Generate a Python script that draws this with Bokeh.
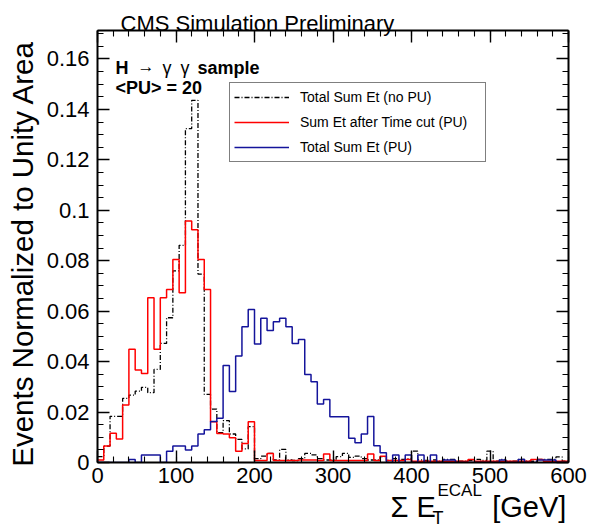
import math
from bokeh.plotting import figure
from bokeh.models import (Range1d, FixedTicker, LinearAxis, Label, Legend, LegendItem, Title,
                          CustomJSTickFormatter, ColumnDataSource)
from bokeh.embed import file_html
from bokeh.resources import INLINE

# ---------------- data ----------------
BIN_LOW, BIN_HIGH, N_BINS = 0.0, 600.0, 75

no_pu = [0.0023, 0.0065, 0.0183, 0.0183, 0.0254, 0.0267, 0.0283, 0.0298, 0.0277, 0.0369,
         0.0472, 0.0574, 0.0760, 0.0861, 0.1324, 0.1436, 0.0747, 0.0270, 0.0212, 0.0118,
         0.0166, 0.0113, 0.0092, 0.0054, 0.0142, 0.0015, 0.0025, 0.0036, 0.0010, 0.0052,
         0.0010, 0.0008, 0.0015, 0.0036, 0.0030, 0.0015, 0.0010, 0.0010, 0.0023, 0.0036,
         0.0020, 0.0025, 0.0015, 0.0010, 0.0010, 0.0023, 0.0008, 0.0015, 0.0012, 0.0015,
         0.0045, 0.0010, 0.0008, 0.0010, 0.0005, 0.0012, 0.0012, 0.0005, 0.0005, 0.0008,
         0.0012, 0.0008, 0.0045, 0.0005, 0.0012, 0.0005, 0.0005, 0.0012, 0.0005, 0.0005,
         0.0012, 0.0012, 0.0012, 0.0022, 0.0005]

time_cut_pu = [0.0010, 0.0065, 0.0116, 0.0093, 0.0228, 0.0449, 0.0367, 0.0353, 0.0653, 0.0449,
               0.0653, 0.0686, 0.0805, 0.0673, 0.0958, 0.0923, 0.0805, 0.0686, 0.0162, 0.0115,
               0.0113, 0.0098, 0.0045, 0.0075, 0.0162, 0.0008, 0.0008, 0.0036, 0.0008, 0.0008,
               0.0008, 0.0008, 0.0010, 0.0010, 0.0010, 0.0008, 0.0034, 0.0008, 0.0008, 0.0008,
               0.0008, 0.0008, 0.0008, 0.0034, 0.0008, 0.0025, 0.0008, 0.0008, 0.0008, 0.0012,
               0.0005, 0.0005, 0.0005, 0.0005, 0.0005, 0.0005, 0.0005, 0.0005, 0.0005, 0.0012,
               0.0005, 0.0005, 0.0005, 0.0005, 0.0005, 0.0005, 0.0005, 0.0005, 0.0005, 0.0012,
               0.0012, 0.0005, 0.0005, 0.0005, 0.0005]

total_pu = [0.0, 0.0, 0.0, 0.0, 0.0, 0.0012, 0.0, 0.0030, 0.0030, 0.0030,
            0.0, 0.0045, 0.0065, 0.0065, 0.0050, 0.0065, 0.0113, 0.0130, 0.0163, 0.0175,
            0.0385, 0.0282, 0.0422, 0.0538, 0.0607, 0.0470, 0.0572, 0.0523, 0.0558, 0.0572,
            0.0538, 0.0472, 0.0488, 0.0349, 0.0320, 0.0232, 0.0250, 0.0181, 0.0181, 0.0181,
            0.0096, 0.0078, 0.0113, 0.0182, 0.0066, 0.0039, 0.0, 0.0030, 0.0, 0.0030,
            0.0, 0.0030, 0.0, 0.0030, 0.0, 0.0010, 0.0010, 0.0, 0.0, 0.0,
            0.0, 0.0, 0.0, 0.0, 0.0010, 0.0, 0.0, 0.0012, 0.0, 0.0,
            0.0010, 0.0010, 0.0010, 0.0, 0.0]

series_labels = ["Total Sum Et (no PU)", "Sum Et after Time cut (PU)", "Total Sum Et (PU)"]

x_major_ticks = [0, 100, 200, 300, 400, 500, 600]
x_minor_ticks = [0, 20, 40, 60, 80, 100, 120, 140, 160, 180, 200, 220, 240, 260, 280, 300,
                 320, 340, 360, 380, 400, 420, 440, 460, 480, 500, 520, 540, 560, 580, 600]
y_major_ticks = [0, 0.02, 0.04, 0.06, 0.08, 0.10, 0.12, 0.14, 0.16]
y_minor_ticks = [0, 0.005, 0.01, 0.015, 0.02, 0.025, 0.03, 0.035, 0.04, 0.045, 0.05, 0.055,
                 0.06, 0.065, 0.07, 0.075, 0.08, 0.085, 0.09, 0.095, 0.1, 0.105, 0.11, 0.115,
                 0.12, 0.125, 0.13, 0.135, 0.14, 0.145, 0.15, 0.155, 0.16, 0.165, 0.17]
Y_MAX = 0.1713

# ---------------- layout ----------------
W, H = 593, 528
FL, FR, FT, FB = 97, 568, 30, 462   # frame edges in picture pixels

p = figure(width=W, height=H, x_range=Range1d(BIN_LOW, BIN_HIGH), y_range=Range1d(0, Y_MAX),
           output_backend="svg", toolbar_location=None,
           min_border_left=FL, min_border_right=W - FR,
           min_border_top=FT, min_border_bottom=H - FB)
p.title.text = ""
p.xgrid.visible = False
p.ygrid.visible = False
p.outline_line_color = None
p.background_fill_color = "white"
p.border_fill_color = "white"

FONT = "Liberation Sans"

def style_axis(ax, show_labels, standoff):
    ax.axis_line_width = 2
    ax.axis_line_color = "black"
    ax.major_tick_in = 12
    ax.major_tick_out = 0
    ax.minor_tick_in = 6
    ax.minor_tick_out = 0
    ax.major_tick_line_width = 1.4
    ax.minor_tick_line_width = 1.1
    ax.major_tick_line_color = "black"
    ax.minor_tick_line_color = "black"
    ax.major_label_text_font = FONT
    ax.major_label_text_color = "black"
    if show_labels:
        ax.major_label_text_font_size = "22px"
        ax.major_label_standoff = standoff
    else:
        ax.major_label_text_font_size = "1px"
        ax.major_label_text_color = None
        ax.major_label_standoff = 0

xa = p.xaxis[0]
xa.ticker = FixedTicker(ticks=x_major_ticks, minor_ticks=x_minor_ticks)
style_axis(xa, True, 5)
ya = p.yaxis[0]
ya.ticker = FixedTicker(ticks=y_major_ticks, minor_ticks=y_minor_ticks)
ya.formatter = CustomJSTickFormatter(
    code="return tick.toFixed(2).replace(/0+$/,'').replace(/\\.$/,'');")
style_axis(ya, True, 8)

top_ax = LinearAxis(ticker=FixedTicker(ticks=x_major_ticks, minor_ticks=x_minor_ticks))
style_axis(top_ax, False, 0)
p.add_layout(top_ax, "above")
right_ax = LinearAxis(ticker=FixedTicker(ticks=y_major_ticks, minor_ticks=y_minor_ticks))
style_axis(right_ax, False, 0)
p.add_layout(right_ax, "right")

# ---------------- histograms ----------------
bw = (BIN_HIGH - BIN_LOW) / N_BINS
edges = [BIN_LOW + i * bw for i in range(N_BINS + 1)]

def src(vals):
    return ColumnDataSource(dict(x=edges, y=list(vals) + [vals[-1]]))

r_black = p.step(x="x", y="y", source=src(no_pu), mode="after", line_color="black",
                 line_width=1.3, line_dash="5 2 1 2")
r_red = p.step(x="x", y="y", source=src(time_cut_pu), mode="after", line_color="#ff0000",
               line_width=1.5)
r_blue = p.step(x="x", y="y", source=src(total_pu), mode="after", line_color="#14149b",
                line_width=1.5)

legend = Legend(items=[LegendItem(label=series_labels[0], renderers=[r_black]),
                       LegendItem(label=series_labels[1], renderers=[r_red]),
                       LegendItem(label=series_labels[2], renderers=[r_blue])],
                location=(229 - FL, FB - 162), margin=0, padding=4, spacing=5,
                glyph_width=55, glyph_height=20, label_height=20, label_width=181,
                label_standoff=11, label_text_font=FONT, label_text_font_size="14px",
                label_text_color="black", border_line_color="black", border_line_width=1,
                background_fill_color="white", background_fill_alpha=1.0)
p.add_layout(legend)

# ---------------- titles outside the frame (side panels are not clipped) ----------------
def side_title(txt, place, size, offset, standoff, align="left", valign="top", style="normal"):
    t = Title(text=txt, align=align, vertical_align=valign, offset=offset, standoff=standoff,
              text_font=FONT, text_font_size=size, text_font_style=style, text_color="black")
    p.add_layout(t, place)

side_title("CMS Simulation Preliminary", "above", "22px", 120 - FL, -11, valign="bottom")
side_title("Events Normalized to Unity Area", "left", "29.5px", 10, 6, align="right")
NB = "\u00a0"
side_title("ECAL", "below", "17px", 437 - FL, -9)
side_title("\u03a3" + NB + "E" + NB * 7 + "[GeV]", "below", "29px", 390 - FL, -13)
side_title("T", "below", "18px", 432 - FL, -21)

# ---------------- texts inside the frame ----------------
def dx(px):
    return (px - FL) * (BIN_HIGH - BIN_LOW) / (FR - FL) + BIN_LOW

def dy(py):
    return (FB - py) * Y_MAX / (FB - FT)

def add_text(txt, px, py, size, style="normal"):
    p.add_layout(Label(x=dx(px), y=dy(py), text=txt, text_font=FONT, text_font_size=size,
                       text_font_style=style, text_color="black",
                       text_align="left", text_baseline="alphabetic"))

add_text("H", 115, 67, "18px", "bold")
add_text("\u2192", 137, 66, "17px")
add_text("\u03b3", 162, 67, "18px")
add_text("\u03b3", 180, 67, "18px")
add_text("sample", 197, 67, "18px", "bold")
add_text("<PU> = 20", 115, 87, "18px", "bold")

open("out.html", "w").write(file_html(p, INLINE))
